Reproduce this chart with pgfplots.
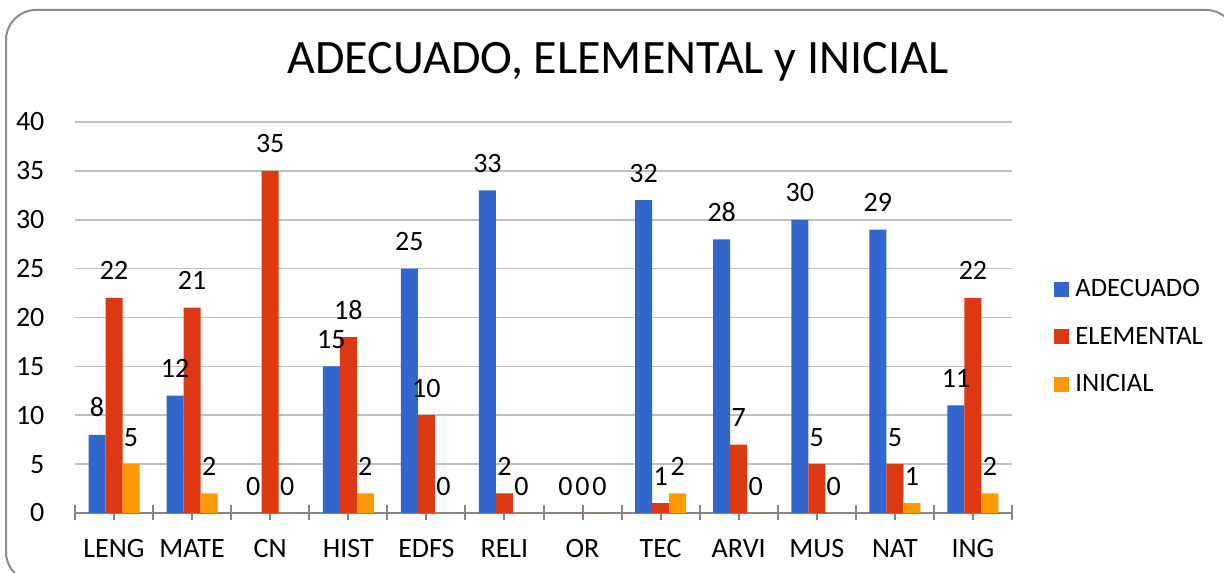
\documentclass[border=0pt]{standalone}
\usepackage{fontspec}
\setmainfont{Carlito}
\usepackage{pgfplots}
\usepackage{pgfplotstable}
\pgfplotsset{compat=1.18}

\definecolor{cade}{HTML}{3366CC}
\definecolor{cele}{HTML}{DC3912}
\definecolor{cini}{HTML}{FF9900}
\definecolor{gridgray}{HTML}{BFBFBF}
\definecolor{axgray}{HTML}{868686}
\definecolor{framegray}{HTML}{8C8C8C}

% idx: LENG MATE CN HIST EDFS RELI OR TEC ARVI MUS NAT ING
\pgfplotstableread{
idx ade ele ini
0   8   22  5
1   12  21  2
2   0   35  0
3   15  18  2
4   25  10  0
5   33  2   0
6   0   0   0
7   32  1   2
8   28  7   0
9   30  5   0
10  29  5   1
11  11  22  2
}\notas

\begin{document}
\begin{tikzpicture}
\useasboundingbox (0pt,0pt) rectangle (612pt,286pt);
\clip (0pt,0pt) rectangle (612pt,286pt);
\draw[framegray, line width=1pt, rounded corners=15pt] (3pt,-5pt) rectangle (618pt,281pt);
\node[font=\fontsize{24}{28}\selectfont] at (309pt,255pt) {ADECUADO, ELEMENTAL y INICIAL};
\begin{axis}[
    at={(37.5pt,29.5pt)}, anchor=south west,
    scale only axis, width=468.5pt, height=195.5pt,
    ybar=0pt, bar width=8.5pt,
    xmin=-0.5, xmax=11.5, ymin=0, ymax=40,
    ytick={0,5,...,40},
    xtick={-0.5,0,...,11.5},
    xticklabels={,LENG,,MATE,,CN,,HIST,,EDFS,,RELI,,OR,,TEC,,ARVI,,MUS,,NAT,,ING,},
    axis x line*=bottom, axis y line*=left,
    y axis line style={draw=none},
    x axis line style={axgray, line width=1.2pt},
    ytick style={draw=none},
    xtick style={axgray, line width=1pt},
    tick align=center, major tick length=7.5pt,
    ymajorgrids, grid style={gridgray, line width=0.8pt},
    /pgf/number format/assume math mode=true,
    tick label style={font=\fontsize{14}{16}\selectfont, text=black},
    yticklabel style={xshift=-8pt},
    xticklabel style={yshift=-6pt},
    nodes near coords,
    every node near coord/.append style={font=\fontsize{14}{16}\selectfont, text=black, inner sep=0pt, anchor=base, yshift=9pt},
    legend image code/.code={\fill[#1] (0pt,-3pt) rectangle (7.5pt,4.5pt); \path (10.5pt,0pt);},
    legend style={draw=none, fill=none, at={(1.0448,0.60)}, anchor=north west,
        inner sep=0pt, row sep=11.75pt,
        nodes={inner sep=0pt, text height=9pt, text depth=3pt, font=\fontsize{13.3}{15}\selectfont}},
    legend cell align=left,
]
\addplot[fill=cade, draw=none] table[x=idx, y=ade] {\notas};
\addplot[fill=cele, draw=none] table[x=idx, y=ele] {\notas};
\addplot[fill=cini, draw=none] table[x=idx, y=ini] {\notas};
\legend{ADECUADO, ELEMENTAL, INICIAL}
\end{axis}
\end{tikzpicture}
\end{document}
